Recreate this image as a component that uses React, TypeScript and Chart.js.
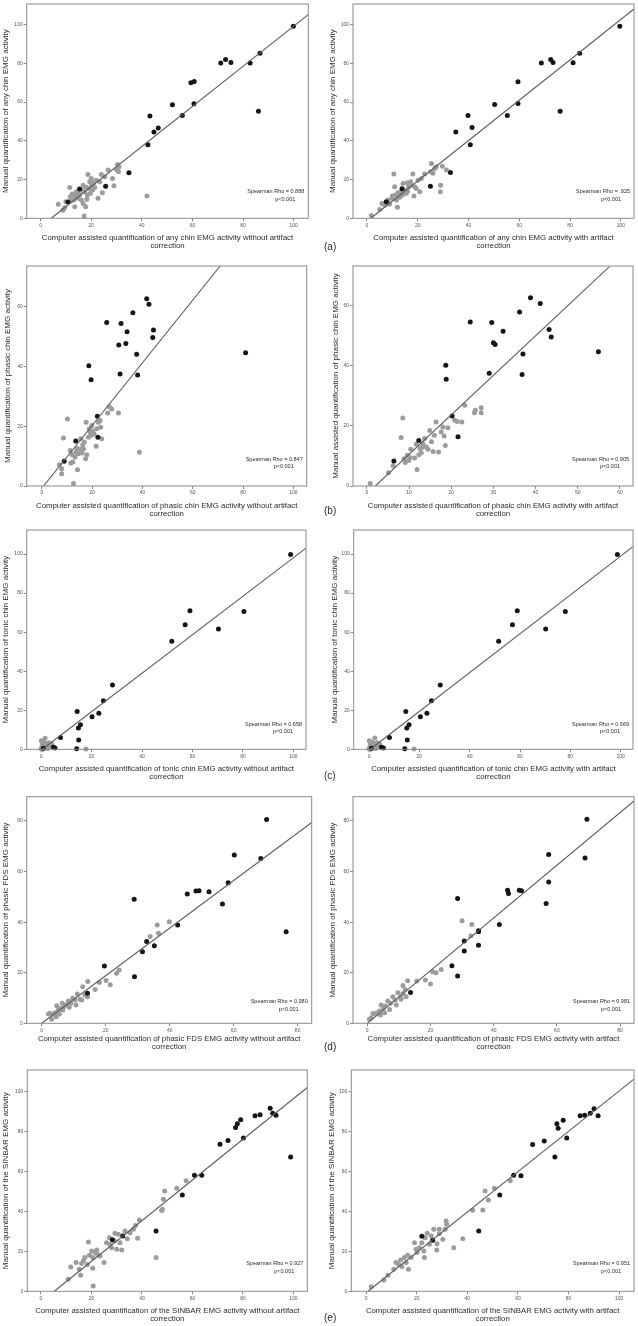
import React, { useEffect, useRef } from "react";
import { Chart, registerables } from "chart.js";

Chart.register(...registerables);

type P = [number, number];

const FONT = '"Liberation Sans", Arial, Helvetica, sans-serif';

// ---------- tick labels ----------
const TICKS_0_100: number[] = [0, 20, 40, 60, 80, 100];
const TICKS_0_80: number[] = [0, 20, 40, 60, 80];
const TICKS_0_60_BY20: number[] = [0, 20, 40, 60];
const TICKS_0_60_BY10: number[] = [0, 10, 20, 30, 40, 50, 60];

// ---------- (a) any chin EMG ----------
const aLeftBlack: P[] = [[99.9, 99.1], [86.7, 85.2], [82.8, 80.2], [73.1, 81.9], [71.2, 80.1], [75.2, 80.4], [59.4, 69.9], [60.7, 70.6], [60.6, 59.1], [52.1, 58.6], [56.0, 53.0], [43.2, 52.8], [44.8, 44.6], [46.5, 46.6], [42.4, 37.9], [86.1, 55.2], [34.9, 23.5], [25.7, 16.6], [15.4, 15.1], [10.8, 8.4]];
const aLeftGray: P[] = [[7.0, 7.2], [8.8, 4.1], [11.5, 15.9], [11.7, 11.1], [12.5, 12.5], [13.1, 9.4], [13.5, 6.0], [14.1, 13.7], [14.8, 10.3], [15.4, 12.0], [16.1, 9.4], [16.8, 17.1], [16.8, 7.7], [17.2, 1.2], [17.4, 13.7], [17.8, 6.0], [18.3, 9.8], [18.7, 22.6], [19.1, 15.4], [19.4, 18.9], [19.7, 12.9], [20.1, 17.1], [20.5, 14.6], [21.0, 18.3], [21.4, 15.9], [22.0, 19.7], [22.7, 10.3], [23.4, 18.9], [24.0, 22.6], [24.4, 13.2], [25.3, 21.4], [26.7, 24.9], [28.4, 20.6], [29.0, 16.8], [30.0, 25.2], [30.4, 27.8], [30.8, 24.0], [31.0, 26.6], [42.0, 11.5], [13.5, 11.5], [15.0, 12.8], [16.5, 14.5], [18.0, 16.0], [12.0, 9.0], [10.0, 8.5], [9.5, 5.5], [18.5, 12.0], [20.0, 20.5]];
const aLeftFit: P[] = [[4.2, 0], [105.8, 105.1]];

const aRightBlack: P[] = [[99.6, 99.1], [83.8, 85.2], [81.2, 80.3], [72.4, 82.0], [73.3, 80.4], [68.7, 80.1], [59.5, 70.5], [59.5, 59.2], [50.3, 58.7], [55.3, 53.0], [39.8, 53.0], [35.0, 44.6], [41.4, 46.8], [40.7, 37.9], [76.1, 55.2], [32.9, 23.7], [25.0, 16.6], [13.8, 15.3], [7.6, 8.6]];
const aRightGray: P[] = [[1.7, 1.5], [5.0, 4.6], [5.9, 7.7], [7.0, 6.9], [8.3, 9.4], [8.9, 7.4], [9.9, 10.3], [10.6, 22.8], [10.9, 16.3], [11.2, 12.0], [11.6, 9.4], [12.0, 5.7], [12.2, 13.2], [12.9, 10.8], [13.5, 13.7], [14.2, 18.0], [14.8, 14.6], [15.5, 12.9], [15.9, 18.4], [16.4, 16.3], [17.2, 18.9], [17.7, 17.1], [18.1, 22.8], [18.5, 11.5], [18.8, 16.3], [19.4, 15.4], [20.1, 19.7], [20.8, 13.7], [21.4, 20.6], [22.7, 22.8], [25.1, 24.0], [25.4, 28.3], [26.0, 23.2], [26.7, 25.7], [27.3, 26.6], [29.0, 17.1], [28.9, 13.7], [29.7, 26.9], [31.3, 24.9], [10.0, 11.5], [14.0, 12.0], [16.0, 14.0]];
const aRightFit: P[] = [[1.5, 0], [105.2, 108.0]];

// ---------- (b) phasic chin EMG ----------
const bLeftBlack: P[] = [[41.7, 62.6], [42.6, 60.7], [36.2, 57.9], [25.8, 54.6], [31.5, 54.3], [33.9, 51.5], [44.4, 52.1], [44.1, 49.6], [30.6, 47.1], [33.4, 47.6], [37.7, 44.0], [81.0, 44.5], [31.1, 37.4], [38.1, 37.1], [18.7, 40.2], [19.6, 35.5], [22.1, 23.3], [22.3, 16.3], [13.5, 15.0], [8.9, 8.3]];
const bLeftGray: P[] = [[7.0, 7.1], [7.9, 5.8], [7.9, 4.1], [8.6, 16.0], [10.2, 22.4], [11.3, 11.9], [11.5, 7.7], [12.3, 8.0], [12.6, 0.8], [13.2, 9.7], [13.6, 11.3], [14.2, 5.4], [14.6, 10.8], [15.2, 12.4], [15.5, 15.8], [16.3, 13.8], [16.6, 12.4], [16.9, 14.7], [17.4, 9.1], [17.6, 21.3], [17.9, 10.4], [18.5, 16.3], [18.9, 19.1], [19.2, 18.0], [19.5, 16.9], [19.9, 20.2], [20.3, 18.5], [20.8, 17.4], [21.6, 13.3], [21.9, 19.1], [22.5, 21.3], [23.2, 21.9], [23.4, 19.6], [23.8, 15.8], [26.2, 24.4], [26.8, 26.5], [27.8, 25.7], [30.5, 24.4], [38.8, 11.3], [12.0, 10.5], [14.0, 12.5], [16.0, 11.0]];
const bLeftFit: P[] = [[0.7, 0], [70.9, 73.5]];

const bRightBlack: P[] = [[38.8, 62.6], [41.1, 60.7], [36.2, 57.9], [24.5, 54.6], [29.6, 54.4], [32.3, 51.5], [43.2, 52.1], [43.7, 49.6], [30.0, 47.7], [30.4, 47.1], [37.0, 43.9], [54.9, 44.7], [29.0, 37.5], [36.8, 37.1], [18.7, 40.2], [18.8, 35.5], [20.2, 23.3], [21.6, 16.4], [12.3, 15.1], [6.4, 8.3]];
const bRightGray: P[] = [[0.8, 0.8], [5.1, 4.4], [6.2, 6.7], [8.1, 16.1], [8.5, 22.6], [8.8, 9.1], [9.1, 7.8], [9.6, 10.2], [9.9, 8.5], [10.4, 12.2], [11.3, 9.3], [11.7, 13.9], [11.9, 5.5], [12.3, 10.4], [12.6, 12.4], [12.9, 11.1], [13.3, 14.1], [13.7, 15.8], [14.1, 13.0], [14.5, 12.2], [14.9, 18.5], [15.3, 14.7], [15.7, 11.5], [16.0, 16.9], [16.4, 21.3], [17.0, 11.3], [17.6, 18.0], [18.0, 19.6], [18.3, 16.6], [18.6, 13.5], [19.2, 19.4], [20.8, 21.9], [21.4, 21.5], [22.5, 21.3], [23.2, 26.9], [25.5, 24.4], [25.7, 25.2], [27.1, 26.0], [27.1, 24.4], [10.2, 9.5], [13.0, 12.8]];
const bRightFit: P[] = [[2.0, 0], [57.5, 73.0]];

// ---------- (c) tonic chin EMG ----------
const cLeftBlack: P[] = [[98.9, 99.7], [59.0, 71.0], [57.1, 63.8], [80.4, 70.6], [70.3, 61.6], [51.8, 55.3], [28.3, 32.9], [24.7, 24.9], [14.3, 19.3], [20.2, 16.7], [22.9, 18.4], [15.6, 12.6], [14.8, 10.9], [7.7, 6.0], [14.9, 4.8], [14.1, 0.3], [4.9, 1.0], [5.5, 0.7], [0.9, 0.5]];
const cLeftGray: P[] = [[0.1, 4.4], [0.7, 2.7], [0.4, 1.4], [1.2, 3.6], [1.6, 5.6], [2.0, 2.0], [2.2, 1.0], [2.9, 2.7], [3.6, 1.7], [4.2, 2.7], [0.0, 0.3], [0.3, 0.0], [17.8, 0.2], [1.0, 0.5], [0.5, 3.2], [1.5, 1.2], [2.6, 0.4], [3.2, 3.4], [0.8, 0.2], [1.9, 3.0]];
const cLeftFit: P[] = [[0.5, 0], [105.0, 103.0]];

const cRightBlack: P[] = [[98.7, 99.7], [58.9, 71.0], [57.0, 63.8], [78.0, 70.6], [70.2, 61.6], [51.5, 55.3], [28.3, 32.9], [24.8, 24.9], [14.6, 19.3], [20.4, 16.7], [23.0, 18.4], [15.9, 12.6], [15.0, 10.9], [8.1, 6.0], [15.2, 4.8], [14.2, 0.3], [4.9, 1.0], [5.7, 0.7], [0.9, 0.5]];
const cRightGray: P[] = [[0.1, 4.4], [0.7, 2.7], [0.4, 1.4], [1.2, 3.6], [2.3, 5.8], [2.0, 2.0], [2.2, 1.0], [2.9, 2.7], [3.6, 1.7], [4.2, 2.7], [0.0, 0.3], [0.3, 0.0], [17.9, 0.2], [1.0, 0.5], [0.5, 3.2], [1.5, 1.2], [2.6, 0.4], [3.2, 3.4], [0.8, 0.2], [1.9, 3.0]];
const cRightFit: P[] = [[0.5, 0], [104.9, 103.8]];

// ---------- (d) phasic FDS EMG ----------
const dLeftBlack: P[] = [[70.3, 80.6], [60.2, 66.5], [68.5, 65.2], [58.3, 55.6], [45.5, 51.1], [48.2, 52.3], [49.2, 52.4], [52.3, 52.0], [56.5, 47.2], [76.4, 36.2], [28.9, 49.1], [42.5, 38.9], [32.8, 32.3], [35.2, 30.7], [31.5, 28.3], [19.6, 22.7], [29.0, 18.4], [14.3, 11.9]];
const dLeftGray: P[] = [[36.1, 38.9], [39.9, 40.2], [33.9, 34.3], [36.5, 35.6], [23.4, 19.8], [24.2, 21.1], [20.1, 16.9], [21.4, 15.2], [18.0, 16.1], [16.7, 13.4], [14.4, 16.5], [12.8, 14.5], [14.3, 10.5], [13.5, 11.2], [12.0, 9.5], [11.1, 11.6], [10.4, 9.2], [9.7, 9.9], [9.1, 7.9], [8.3, 8.8], [7.6, 7.2], [7.0, 6.6], [6.4, 7.9], [5.7, 5.9], [5.2, 5.3], [4.7, 6.9], [4.2, 4.2], [3.6, 3.6], [3.1, 1.6], [2.6, 4.0], [2.1, 3.7], [5.5, 3.7], [6.6, 5.3], [8.6, 6.3], [10.7, 7.2], [12.5, 9.2], [4.5, 2.6]];
const dLeftFit: P[] = [[0, 0], [84.4, 79.4]];

const dRightBlack: P[] = [[69.5, 80.7], [57.4, 66.7], [68.9, 65.4], [57.4, 55.9], [44.4, 52.6], [44.7, 51.3], [48.1, 52.6], [48.8, 52.4], [56.6, 47.4], [28.6, 49.3], [41.8, 39.1], [35.2, 36.6], [35.2, 36.2], [30.7, 32.5], [35.2, 30.9], [30.7, 28.6], [26.8, 22.8], [28.6, 18.7], [13.7, 12.2]];
const dRightGray: P[] = [[30.0, 40.5], [33.1, 39.1], [32.8, 34.5], [20.7, 20.4], [21.8, 20.0], [23.4, 21.3], [18.4, 17.1], [20.0, 15.5], [15.7, 16.7], [12.8, 16.8], [11.3, 14.9], [12.0, 13.4], [11.3, 11.8], [10.5, 10.3], [9.7, 12.1], [8.8, 9.2], [8.1, 10.5], [7.4, 7.9], [6.5, 8.8], [5.7, 6.8], [5.1, 5.9], [4.4, 7.2], [3.9, 4.9], [3.2, 4.2], [2.5, 3.7], [1.8, 3.9], [1.3, 2.2], [0.7, 1.6], [4.2, 3.3], [5.5, 4.2], [7.1, 5.5], [9.2, 7.2], [10.7, 9.5], [12.3, 10.5]];
const dRightFit: P[] = [[0, 0], [84.4, 87.9]];

// ---------- (e) SINBAR EMG ----------
const eLeftBlack: P[] = [[90.8, 91.8], [91.8, 89.3], [93.1, 88.3], [86.8, 88.5], [84.8, 88.0], [79.1, 86.0], [77.8, 84.1], [77.1, 82.1], [80.2, 76.9], [74.1, 75.6], [70.9, 73.7], [98.9, 67.4], [60.8, 58.2], [63.7, 58.2], [56.0, 48.3], [45.6, 30.3], [28.3, 25.8], [32.4, 27.8]];
const eLeftGray: P[] = [[57.5, 55.4], [53.8, 51.7], [49.0, 50.3], [48.5, 46.2], [48.1, 41.1], [47.8, 40.5], [45.6, 16.9], [39.0, 35.8], [38.3, 26.6], [36.6, 31.1], [35.3, 29.4], [34.2, 26.4], [33.3, 30.3], [32.0, 20.7], [30.0, 21.1], [31.3, 24.4], [30.6, 28.6], [29.3, 29.1], [29.1, 25.3], [28.0, 21.9], [27.3, 23.6], [27.1, 26.9], [26.0, 24.4], [25.0, 14.4], [23.4, 17.7], [22.3, 18.6], [21.4, 19.4], [22.1, 20.7], [20.5, 16.9], [20.1, 20.2], [20.5, 11.5], [20.7, 2.7], [18.8, 24.7], [19.2, 18.1], [18.4, 13.5], [17.4, 16.9], [16.8, 15.2], [16.1, 14.0], [15.7, 8.0], [15.2, 11.0], [13.9, 14.4], [11.8, 12.2], [10.8, 6.0], [37.5, 33.0]];
const eLeftFit: P[] = [[5.3, 0], [105.5, 102.2]];

const eRightBlack: P[] = [[90.1, 91.6], [91.7, 88.0], [88.6, 89.3], [86.4, 88.3], [84.6, 88.0], [77.9, 85.8], [75.4, 84.1], [75.9, 81.8], [79.3, 76.9], [74.6, 67.4], [70.4, 75.4], [65.8, 73.6], [58.3, 58.2], [61.2, 57.9], [52.8, 48.3], [44.5, 30.3], [22.0, 27.6], [26.3, 25.6]];
const eRightGray: P[] = [[57.0, 55.4], [50.7, 51.7], [47.0, 50.3], [48.3, 45.8], [46.1, 40.8], [42.1, 40.6], [38.2, 26.4], [34.6, 21.9], [31.6, 35.3], [31.8, 33.6], [31.2, 31.1], [30.3, 26.1], [28.9, 31.1], [28.9, 28.9], [28.0, 23.9], [27.9, 20.7], [26.7, 31.1], [25.7, 27.8], [25.0, 23.6], [24.1, 29.1], [23.3, 26.9], [23.0, 16.9], [22.8, 20.2], [22.0, 24.4], [21.1, 21.9], [20.1, 19.4], [19.7, 21.1], [19.1, 24.4], [17.8, 16.9], [16.7, 11.0], [16.4, 18.1], [15.8, 14.4], [15.1, 16.9], [14.1, 12.4], [13.6, 15.7], [12.8, 13.5], [11.8, 14.4], [10.9, 11.0], [8.6, 8.0], [7.0, 5.7], [2.0, 2.3]];
const eRightFit: P[] = [[0.7, 0], [105.9, 106.4]];

// ---------- texts ----------
const RHO: string[] = ["0.888", ".925", "0.847", "0.905", "0.658", "0.669", "0.980", "0.981", "0.927", "0.951"];
const PANEL_LETTERS: string[] = ["(a)", "(b)", "(c)", "(d)", "(e)"];

interface Box { l: number; r: number; t: number; b: number }
interface Cell { x: number; y: number; w: number; h: number }
interface PanelCfg {
  cell: Cell;
  box: Box;
  xRange: [number, number];
  yRange: [number, number];
  xTicks: number[];
  yTicks: number[];
  black: P[];
  gray: P[];
  fit: P[];
  yTitle: string;
  xTitle: string[];
  rho: string;
  statDy: [number, number];
  yTitleX: number;
  xTitleY: number;
}

const L = { x: 0, w: 318 };
const R = { x: 318, w: 320 };
const ROWS = [
  { y: 0, h: 262 },
  { y: 262, h: 262 },
  { y: 524, h: 266 },
  { y: 790, h: 266 },
  { y: 1056, h: 270 },
];

const PANELS: PanelCfg[] = [
  {
    cell: { ...L, ...ROWS[0] }, box: { l: 26.7, r: 308.3, t: 3.3, b: 218.3 },
    xRange: [-5.5, 105.8], yRange: [0, 110.6], xTicks: TICKS_0_100, yTicks: TICKS_0_100,
    black: aLeftBlack, gray: aLeftGray, fit: aLeftFit,
    yTitle: "Manual quantification of any chin EMG activity",
    xTitle: ["Computer assisted quantification of any chin EMG activity without artifact", "correction"],
    rho: RHO[0], statDy: [-26.5, -18.5], yTitleX: 6, xTitleY: 245.7,
  },
  {
    cell: { ...R, ...ROWS[0] }, box: { l: 353, r: 634, t: 3.3, b: 218.3 },
    xRange: [-5.5, 105.2], yRange: [0, 110.6], xTicks: TICKS_0_100, yTicks: TICKS_0_100,
    black: aRightBlack, gray: aRightGray, fit: aRightFit,
    yTitle: "Manual quantification of any chin EMG activity",
    xTitle: ["Computer assisted quantification of any chin EMG activity with artifact", "correction"],
    rho: RHO[1], statDy: [-26.5, -18.5], yTitleX: 333, xTitleY: 245.7,
  },
  {
    cell: { ...L, ...ROWS[1] }, box: { l: 26.7, r: 306.7, t: 265.3, b: 486 },
    xRange: [-6, 105.3], yRange: [0, 73.5], xTicks: TICKS_0_100, yTicks: TICKS_0_60_BY20,
    black: bLeftBlack, gray: bLeftGray, fit: bLeftFit,
    yTitle: "Manual quantification of phasic chin EMG activity",
    xTitle: ["Computer assisted quantification of phasic chin EMG activity without artifact", "correction"],
    rho: RHO[2], statDy: [-26.5, -19.5], yTitleX: 7.3, xTitleY: 513.7,
  },
  {
    cell: { ...R, ...ROWS[1] }, box: { l: 353, r: 633, t: 266, b: 486 },
    xRange: [-3.3, 63.1], yRange: [0, 73.2], xTicks: TICKS_0_60_BY10, yTicks: TICKS_0_60_BY20,
    black: bRightBlack, gray: bRightGray, fit: bRightFit,
    yTitle: "Manual assisted quantification of phasic chin EMG activity",
    xTitle: ["Computer assisted quantification of phasic chin EMG activity with artifact", "correction"],
    rho: RHO[3], statDy: [-26.5, -19.5], yTitleX: 336, xTitleY: 513.7,
  },
  {
    cell: { ...L, ...ROWS[2] }, box: { l: 26.7, r: 306, t: 530, b: 749.3 },
    xRange: [-5.7, 105], yRange: [0, 112.3], xTicks: TICKS_0_100, yTicks: TICKS_0_100,
    black: cLeftBlack, gray: cLeftGray, fit: cLeftFit,
    yTitle: "Manual quantification of tonic chin EMG activity",
    xTitle: ["Computer assisted quantification of tonic chin EMG activity without artifact", "correction"],
    rho: RHO[4], statDy: [-25, -18], yTitleX: 6, xTitleY: 776.7,
  },
  {
    cell: { ...R, ...ROWS[2] }, box: { l: 353.7, r: 633, t: 530, b: 749.3 },
    xRange: [-6.1, 104.9], yRange: [0, 112.3], xTicks: TICKS_0_100, yTicks: TICKS_0_100,
    black: cRightBlack, gray: cRightGray, fit: cRightFit,
    yTitle: "Manual quantification of tonic chin EMG activity",
    xTitle: ["Computer assisted quantification of tonic chin EMG activity with artifact", "correction"],
    rho: RHO[5], statDy: [-25, -18], yTitleX: 334.7, xTitleY: 776.7,
  },
  {
    cell: { ...L, ...ROWS[3] }, box: { l: 26.7, r: 311.7, t: 796.7, b: 1023.3 },
    xRange: [-4.7, 84.4], yRange: [0, 89.6], xTicks: TICKS_0_80, yTicks: TICKS_0_80,
    black: dLeftBlack, gray: dLeftGray, fit: dLeftFit,
    yTitle: "Manual quantification of phasic FDS EMG activity",
    xTitle: ["Computer assisted quantification of phasic FDS EMG activity without artifact", "correction"],
    rho: RHO[6], statDy: [-21.6, -14.3], yTitleX: 6, xTitleY: 1047.3,
  },
  {
    cell: { ...R, ...ROWS[3] }, box: { l: 353, r: 634.7, t: 796.7, b: 1023.3 },
    xRange: [-4.5, 84.4], yRange: [0, 89.6], xTicks: TICKS_0_80, yTicks: TICKS_0_80,
    black: dRightBlack, gray: dRightGray, fit: dRightFit,
    yTitle: "Manual quantification of phasic FDS EMG activity",
    xTitle: ["Computer assisted quantification of phasic FDS EMG activity with artifact", "correction"],
    rho: RHO[7], statDy: [-21.6, -14.3], yTitleX: 333, xTitleY: 1047.3,
  },
  {
    cell: { ...L, ...ROWS[4] }, box: { l: 27.3, r: 307.3, t: 1070, b: 1291.3 },
    xRange: [-5.4, 105.5], yRange: [0, 111], xTicks: TICKS_0_100, yTicks: TICKS_0_100,
    black: eLeftBlack, gray: eLeftGray, fit: eLeftFit,
    yTitle: "Manual quantification of the SINBAR EMG activity",
    xTitle: ["Computer assisted quantification of the SINBAR EMG activity without artifact", "correction"],
    rho: RHO[8], statDy: [-28, -20], yTitleX: 6, xTitleY: 1319.3,
  },
  {
    cell: { ...R, ...ROWS[4] }, box: { l: 351.3, r: 634.7, t: 1070, b: 1291.3 },
    xRange: [-5.9, 105.9], yRange: [0, 111], xTicks: TICKS_0_100, yTicks: TICKS_0_100,
    black: eRightBlack, gray: eRightGray, fit: eRightFit,
    yTitle: "Manual quantification of the SINBAR EMG activity",
    xTitle: ["Computer assisted quantification of the SINBAR EMG activity with artifact", "correction"],
    rho: RHO[9], statDy: [-28, -20], yTitleX: 332, xTitleY: 1319.3,
  },
];

const LETTER_POS: { x: number; y: number }[] = [
  { x: 324, y: 247 },
  { x: 324, y: 511 },
  { x: 324, y: 776 },
  { x: 324, y: 1047 },
  { x: 324, y: 1318 },
];

const frameStatsPlugin = {
  id: "frameStats",
  afterDatasetsDraw(chart: any, _args: any, opts: any) {
    const { ctx, chartArea: a } = chart;
    ctx.save();
    ctx.strokeStyle = "#8a8a8a";
    ctx.lineWidth = 1;
    ctx.strokeRect(a.left, a.top, a.right - a.left, a.bottom - a.top);
    ctx.fillStyle = "#2a2a2a";
    ctx.font = `5.5px ${FONT}`;
    ctx.textAlign = "right";
    ctx.textBaseline = "middle";
    ctx.fillText(`Spearman Rho = ${opts.rho}`, a.right - 4, a.bottom + opts.dy1);
    ctx.fillText("p<0.001", a.right - 13, a.bottom + opts.dy2);
    ctx.restore();
  },
};

const X_TITLE_SIZE = 7.8;
const Y_TITLE_SIZE = 8;

function Panel({ cfg }: { cfg: PanelCfg }) {
  const ref = useRef<HTMLCanvasElement | null>(null);
  useEffect(() => {
    const c = cfg;
    const padTop = c.box.t - c.cell.y;
    const padRight = c.cell.x + c.cell.w - c.box.r;
    const yW = c.box.l - c.cell.x;
    const xH = c.cell.y + c.cell.h - c.box.b;
    const xLH = 1.05;
    const yLH = 1.2;
    const xPadB = c.cell.y + c.cell.h - c.xTitleY - (X_TITLE_SIZE * xLH) / 2;
    const yPadT = c.yTitleX - c.cell.x - (Y_TITLE_SIZE * yLH) / 2;
    const toXY = (arr: P[]) => arr.map(([x, y]) => ({ x, y }));
    const chart = new Chart(ref.current as HTMLCanvasElement, {
      type: "scatter",
      data: {
        datasets: [
          {
            type: "line",
            data: toXY(c.fit),
            borderColor: "#5e5e5e",
            borderWidth: 1.1,
            pointRadius: 0,
            fill: false,
            order: 0,
          } as any,
          {
            data: toXY(c.black),
            backgroundColor: "#151515",
            borderWidth: 0,
            pointRadius: 2.5,
            clip: false,
            order: 1,
          } as any,
          {
            data: toXY(c.gray),
            backgroundColor: "#9c9c9c",
            borderWidth: 0,
            pointRadius: 2.5,
            clip: false,
            order: 2,
          } as any,
        ],
      },
      options: {
        responsive: false,
        animation: false,
        events: [],
        layout: { padding: { left: 0, top: padTop, right: padRight, bottom: 0 } },
        plugins: {
          legend: { display: false },
          tooltip: { enabled: false },
          frameStats: { rho: c.rho, dy1: c.statDy[0], dy2: c.statDy[1] },
        } as any,
        scales: {
          x: {
            type: "linear",
            min: c.xRange[0],
            max: c.xRange[1],
            afterBuildTicks: (s: any) => {
              s.ticks = c.xTicks.map((v) => ({ value: v }));
            },
            afterFit: (s: any) => {
              s.height = xH;
            },
            grid: { display: true, drawOnChartArea: false, drawTicks: true, tickLength: 3, color: "#8a8a8a" },
            border: { display: false },
            ticks: {
              autoSkip: false,
              maxRotation: 0,
              minRotation: 0,
              padding: 1,
              color: "#555",
              font: { size: 5, family: FONT },
            },
            title: {
              display: true,
              text: c.xTitle,
              color: "#2a2a2a",
              font: { size: X_TITLE_SIZE, family: FONT, lineHeight: xLH },
              padding: { top: 0, bottom: xPadB },
            },
          },
          y: {
            type: "linear",
            min: c.yRange[0],
            max: c.yRange[1],
            afterBuildTicks: (s: any) => {
              s.ticks = c.yTicks.map((v) => ({ value: v }));
            },
            afterFit: (s: any) => {
              s.width = yW;
            },
            grid: { display: true, drawOnChartArea: false, drawTicks: true, tickLength: 3, color: "#8a8a8a" },
            border: { display: false },
            ticks: {
              autoSkip: false,
              padding: 1,
              color: "#555",
              font: { size: 5, family: FONT },
            },
            title: {
              display: true,
              text: c.yTitle,
              color: "#2a2a2a",
              font: { size: Y_TITLE_SIZE, family: FONT, lineHeight: yLH },
              padding: { top: yPadT, bottom: 0 },
            },
          },
        },
      },
      plugins: [frameStatsPlugin as any],
    });
    return () => chart.destroy();
  }, [cfg]);
  return (
    <canvas
      ref={ref}
      width={cfg.cell.w}
      height={cfg.cell.h}
      style={{ position: "absolute", left: cfg.cell.x, top: cfg.cell.y, width: cfg.cell.w, height: cfg.cell.h }}
    />
  );
}

export default function App() {
  return (
    <div
      style={{
        position: "absolute",
        left: 0,
        top: 0,
        width: 638,
        height: 1326,
        background: "#fff",
        overflow: "hidden",
        fontFamily: FONT,
      }}
    >
      {PANELS.map((p, i) => (
        <Panel key={i} cfg={p} />
      ))}
      {PANEL_LETTERS.map((t, i) => (
        <div
          key={t}
          style={{
            position: "absolute",
            left: LETTER_POS[i].x,
            top: LETTER_POS[i].y - 6,
            fontSize: 10,
            lineHeight: "12px",
            color: "#2a2a2a",
          }}
        >
          {t}
        </div>
      ))}
    </div>
  );
}
